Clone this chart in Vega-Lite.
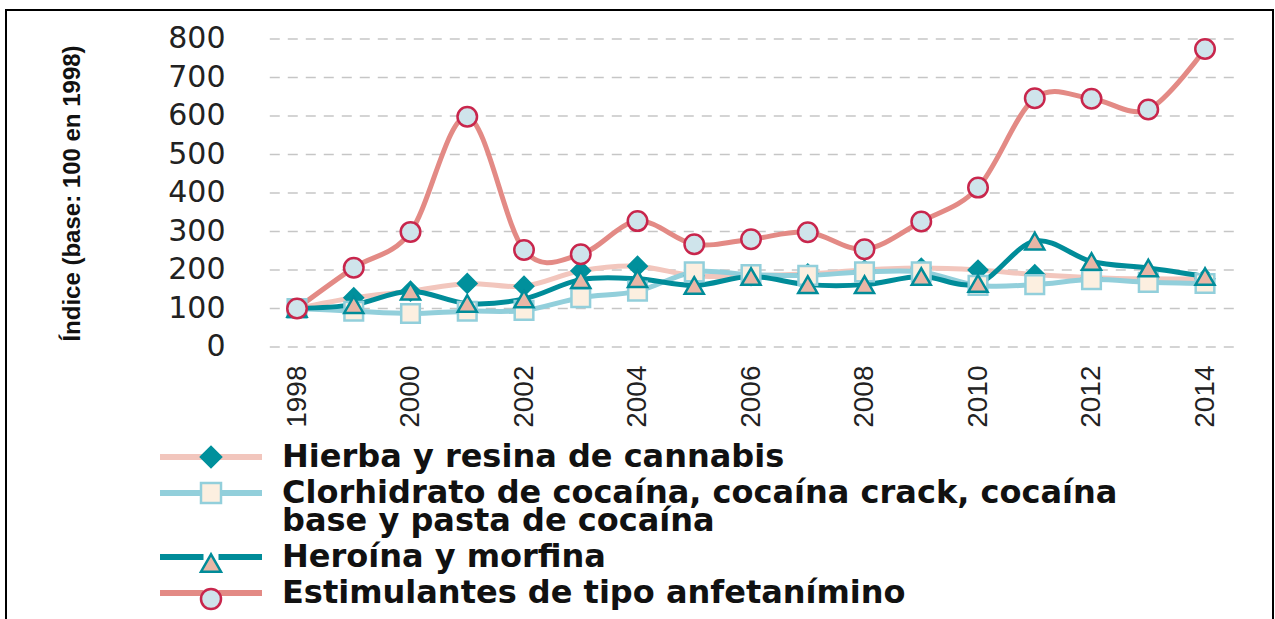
{
  "$schema": "https://vega.github.io/schema/vega-lite/v6.json",
  "width": 1267,
  "height": 615,
  "padding": {"left": 6, "top": 10, "right": 2, "bottom": 0},
  "autosize": {"type": "none"},
  "background": "white",
  "config": {"view": {"stroke": "#000000", "strokeWidth": 2}},
  "datasets": {
    "grid": [{"value": 0}, {"value": 100}, {"value": 200}, {"value": 300}, {"value": 400}, {"value": 500}, {"value": 600}, {"value": 700}, {"value": 800}],
    "series": [
      {"series": "Hierba y resina de cannabis", "year": 1998, "value": 100},
      {"series": "Hierba y resina de cannabis", "year": 1999, "value": 128},
      {"series": "Hierba y resina de cannabis", "year": 2000, "value": 145},
      {"series": "Hierba y resina de cannabis", "year": 2001, "value": 165},
      {"series": "Hierba y resina de cannabis", "year": 2002, "value": 158},
      {"series": "Hierba y resina de cannabis", "year": 2003, "value": 198},
      {"series": "Hierba y resina de cannabis", "year": 2004, "value": 210},
      {"series": "Hierba y resina de cannabis", "year": 2005, "value": 185},
      {"series": "Hierba y resina de cannabis", "year": 2006, "value": 185},
      {"series": "Hierba y resina de cannabis", "year": 2007, "value": 190},
      {"series": "Hierba y resina de cannabis", "year": 2008, "value": 200},
      {"series": "Hierba y resina de cannabis", "year": 2009, "value": 205},
      {"series": "Hierba y resina de cannabis", "year": 2010, "value": 200},
      {"series": "Hierba y resina de cannabis", "year": 2011, "value": 188},
      {"series": "Hierba y resina de cannabis", "year": 2012, "value": 180},
      {"series": "Hierba y resina de cannabis", "year": 2013, "value": 177},
      {"series": "Hierba y resina de cannabis", "year": 2014, "value": 177},
      {"series": "Clorhidrato de cocaína, cocaína crack, cocaína base y pasta de cocaína", "year": 1998, "value": 100},
      {"series": "Clorhidrato de cocaína, cocaína crack, cocaína base y pasta de cocaína", "year": 1999, "value": 93},
      {"series": "Clorhidrato de cocaína, cocaína crack, cocaína base y pasta de cocaína", "year": 2000, "value": 87},
      {"series": "Clorhidrato de cocaína, cocaína crack, cocaína base y pasta de cocaína", "year": 2001, "value": 93},
      {"series": "Clorhidrato de cocaína, cocaína crack, cocaína base y pasta de cocaína", "year": 2002, "value": 95},
      {"series": "Clorhidrato de cocaína, cocaína crack, cocaína base y pasta de cocaína", "year": 2003, "value": 128},
      {"series": "Clorhidrato de cocaína, cocaína crack, cocaína base y pasta de cocaína", "year": 2004, "value": 145},
      {"series": "Clorhidrato de cocaína, cocaína crack, cocaína base y pasta de cocaína", "year": 2005, "value": 195},
      {"series": "Clorhidrato de cocaína, cocaína crack, cocaína base y pasta de cocaína", "year": 2006, "value": 188},
      {"series": "Clorhidrato de cocaína, cocaína crack, cocaína base y pasta de cocaína", "year": 2007, "value": 186},
      {"series": "Clorhidrato de cocaína, cocaína crack, cocaína base y pasta de cocaína", "year": 2008, "value": 195},
      {"series": "Clorhidrato de cocaína, cocaína crack, cocaína base y pasta de cocaína", "year": 2009, "value": 195},
      {"series": "Clorhidrato de cocaína, cocaína crack, cocaína base y pasta de cocaína", "year": 2010, "value": 160},
      {"series": "Clorhidrato de cocaína, cocaína crack, cocaína base y pasta de cocaína", "year": 2011, "value": 162},
      {"series": "Clorhidrato de cocaína, cocaína crack, cocaína base y pasta de cocaína", "year": 2012, "value": 175},
      {"series": "Clorhidrato de cocaína, cocaína crack, cocaína base y pasta de cocaína", "year": 2013, "value": 168},
      {"series": "Clorhidrato de cocaína, cocaína crack, cocaína base y pasta de cocaína", "year": 2014, "value": 165},
      {"series": "Heroína y morfina", "year": 1998, "value": 100},
      {"series": "Heroína y morfina", "year": 1999, "value": 110},
      {"series": "Heroína y morfina", "year": 2000, "value": 145},
      {"series": "Heroína y morfina", "year": 2001, "value": 113},
      {"series": "Heroína y morfina", "year": 2002, "value": 125},
      {"series": "Heroína y morfina", "year": 2003, "value": 175},
      {"series": "Heroína y morfina", "year": 2004, "value": 177},
      {"series": "Heroína y morfina", "year": 2005, "value": 160},
      {"series": "Heroína y morfina", "year": 2006, "value": 183},
      {"series": "Heroína y morfina", "year": 2007, "value": 162},
      {"series": "Heroína y morfina", "year": 2008, "value": 162},
      {"series": "Heroína y morfina", "year": 2009, "value": 183},
      {"series": "Heroína y morfina", "year": 2010, "value": 165},
      {"series": "Heroína y morfina", "year": 2011, "value": 275},
      {"series": "Heroína y morfina", "year": 2012, "value": 222},
      {"series": "Heroína y morfina", "year": 2013, "value": 205},
      {"series": "Heroína y morfina", "year": 2014, "value": 183},
      {"series": "Estimulantes de tipo anfetanímino", "year": 1998, "value": 100},
      {"series": "Estimulantes de tipo anfetanímino", "year": 1999, "value": 206},
      {"series": "Estimulantes de tipo anfetanímino", "year": 2000, "value": 299},
      {"series": "Estimulantes de tipo anfetanímino", "year": 2001, "value": 598},
      {"series": "Estimulantes de tipo anfetanímino", "year": 2002, "value": 252},
      {"series": "Estimulantes de tipo anfetanímino", "year": 2003, "value": 241},
      {"series": "Estimulantes de tipo anfetanímino", "year": 2004, "value": 327},
      {"series": "Estimulantes de tipo anfetanímino", "year": 2005, "value": 267},
      {"series": "Estimulantes de tipo anfetanímino", "year": 2006, "value": 280},
      {"series": "Estimulantes de tipo anfetanímino", "year": 2007, "value": 298},
      {"series": "Estimulantes de tipo anfetanímino", "year": 2008, "value": 254},
      {"series": "Estimulantes de tipo anfetanímino", "year": 2009, "value": 326},
      {"series": "Estimulantes de tipo anfetanímino", "year": 2010, "value": 414},
      {"series": "Estimulantes de tipo anfetanímino", "year": 2011, "value": 646},
      {"series": "Estimulantes de tipo anfetanímino", "year": 2012, "value": 645},
      {"series": "Estimulantes de tipo anfetanímino", "year": 2013, "value": 617},
      {"series": "Estimulantes de tipo anfetanímino", "year": 2014, "value": 774}
    ]
  },
  "layer": [
    {
      "data": {"name": "grid"},
      "mark": {"type": "rule", "stroke": "#c6c6c6", "strokeWidth": 1.5, "strokeDash": [10, 8]},
      "encoding": {
        "y": {"field": "value", "type": "quantitative"},
        "x": {"datum": 1997.52, "type": "quantitative"},
        "x2": {"datum": 2014.53}
      }
    },
    {
      "data": {"name": "series"},
      "mark": {"type": "line", "interpolate": "cardinal", "strokeCap": "round", "strokeJoin": "round"},
      "encoding": {
        "x": {
          "field": "year", "type": "quantitative",
          "scale": {"domain": [1992.872, 2015.198], "nice": false, "zero": false},
          "axis": {
            "values": [1998, 2000, 2002, 2004, 2006, 2008, 2010, 2012, 2014],
            "format": "d", "orient": "bottom", "offset": -260, "ticks": false, "domain": false, "grid": false,
            "labelAngle": 270, "labelPadding": 0, "labelFlush": false, "labelOverlap": false,
            "labelFont": "Liberation Sans",
            "labelFontSize": 28, "labelColor": "#222222", "title": null
          }
        },
        "y": {
          "field": "value", "type": "quantitative",
          "scale": {"domain": [-722.08, 875.32], "nice": false, "zero": false},
          "axis": {
            "values": [0, 100, 200, 300, 400, 500, 600, 700, 800],
            "orient": "left", "offset": -219, "ticks": false, "domain": false, "grid": false,
            "labelPadding": 0, "labelFlush": false, "labelOverlap": false,
            "labelFont": "DejaVu Sans", "labelFontSize": 30, "labelColor": "#222222",
            "title": "Índice (base: 100 en 1998)",
            "titleFont": "Liberation Sans",
            "titleFontSize": 24, "titleFontWeight": "bold", "titleColor": "#111111",
            "titleX": -153, "titleY": 183, "titleAngle": 270, "titleBaseline": "middle", "titleAlign": "center"
          }
        },
        "stroke": {
          "field": "series", "type": "nominal",
          "sort": ["Hierba y resina de cannabis", "Clorhidrato de cocaína, cocaína crack, cocaína base y pasta de cocaína", "Heroína y morfina", "Estimulantes de tipo anfetanímino"],
          "scale": {
            "range": ["#f2c6bd", "#92cfdb", "#008c99", "#e38a85"]
          },
          "legend": {
            "orient": "none", "legendX": 189, "legendY": 431, "title": null, "padding": 0,
            "symbolType": "M-10.2,0H-1.5M1.5,0H10.2", "symbolSize": 100, "symbolStrokeWidth": 6,
            "labelFont": "DejaVu Sans", "labelFontSize": 32, "labelFontWeight": "bold", "labelColor": "#111111",
            "labelLimit": 3000, "labelOffset": 55, "rowPadding": 4,
            "labelExpr": "indexof(datum.label, 'Clorhidrato') == 0 ? ['Clorhidrato de cocaína, cocaína crack, cocaína', 'base y pasta de cocaína'] : datum.label",
            "encode": {"labels": {"update": {"lineHeight": {"value": 28}}}}
          }
        },
        "strokeWidth": {
          "field": "series", "type": "nominal",
          "scale": {
            "domain": ["Hierba y resina de cannabis", "Clorhidrato de cocaína, cocaína crack, cocaína base y pasta de cocaína", "Heroína y morfina", "Estimulantes de tipo anfetanímino"],
            "range": [5, 5, 5, 7]
          },
          "legend": null
        }
      }
    },
    {
      "data": {"name": "series"},
      "mark": {"type": "point", "filled": true, "opacity": 1, "strokeWidth": 2.5},
      "encoding": {
        "x": {"field": "year", "type": "quantitative"},
        "y": {"field": "value", "type": "quantitative"},
        "shape": {
          "field": "series", "type": "nominal",
          "scale": {
            "domain": ["Hierba y resina de cannabis", "Clorhidrato de cocaína, cocaína crack, cocaína base y pasta de cocaína", "Heroína y morfina", "Estimulantes de tipo anfetanímino"],
            "range": ["diamond", "square", "triangle-up", "circle"]
          },
          "legend": {
            "orient": "none", "legendX": 189, "legendY": 431, "title": null, "padding": 0,
            "symbolSize": 400, "symbolStrokeWidth": 2.5,
            "labelFont": "DejaVu Sans", "labelFontSize": 32, "labelFontWeight": "bold", "labelOpacity": 0,
            "labelLimit": 3000, "labelOffset": 55, "rowPadding": 4,
            "labelExpr": "indexof(datum.label, 'Clorhidrato') == 0 ? [' ', ' '] : ' '",
            "encode": {
              "labels": {"update": {"lineHeight": {"value": 28}}},
              "symbols": {"update": {
                "stroke": {"signal": "indexof(datum.value, 'Estimulantes') == 0 ? '#c8264c' : indexof(datum.value, 'Hero') == 0 ? '#008c99' : indexof(datum.value, 'Hierba') == 0 ? '#00909c' : '#92cfdb'"},
                "fill": {"signal": "indexof(datum.value, 'Estimulantes') == 0 ? '#cfe4eb' : indexof(datum.value, 'Hero') == 0 ? '#e9b6a6' : indexof(datum.value, 'Hierba') == 0 ? '#00909c' : '#fcefe0'"},
                "strokeWidth": {"value": 2.5},
                "opacity": {"value": 1}
              }}
            }
          }
        },
        "fill": {
          "field": "series", "type": "nominal",
          "scale": {
            "domain": ["Hierba y resina de cannabis", "Clorhidrato de cocaína, cocaína crack, cocaína base y pasta de cocaína", "Heroína y morfina", "Estimulantes de tipo anfetanímino"],
            "range": ["#00909c", "#fcefe0", "#e9b6a6", "#cfe4eb"]
          },
          "legend": null
        },
        "stroke": {
          "field": "series", "type": "nominal",
          "scale": {
            "domain": ["Hierba y resina de cannabis", "Clorhidrato de cocaína, cocaína crack, cocaína base y pasta de cocaína", "Heroína y morfina", "Estimulantes de tipo anfetanímino"],
            "range": ["#00909c", "#92cfdb", "#008c99", "#c8264c"]
          },
          "legend": null
        },
        "size": {
          "field": "series", "type": "nominal",
          "scale": {
            "domain": ["Hierba y resina de cannabis", "Clorhidrato de cocaína, cocaína crack, cocaína base y pasta de cocaína", "Heroína y morfina", "Estimulantes de tipo anfetanímino"],
            "range": [330, 380, 380, 280]
          },
          "legend": null
        }
      }
    }
  ],
  "resolve": {
    "scale": {"stroke": "independent", "shape": "independent", "fill": "independent"},
    "legend": {"stroke": "independent", "shape": "independent", "fill": "independent"}
  }
}
